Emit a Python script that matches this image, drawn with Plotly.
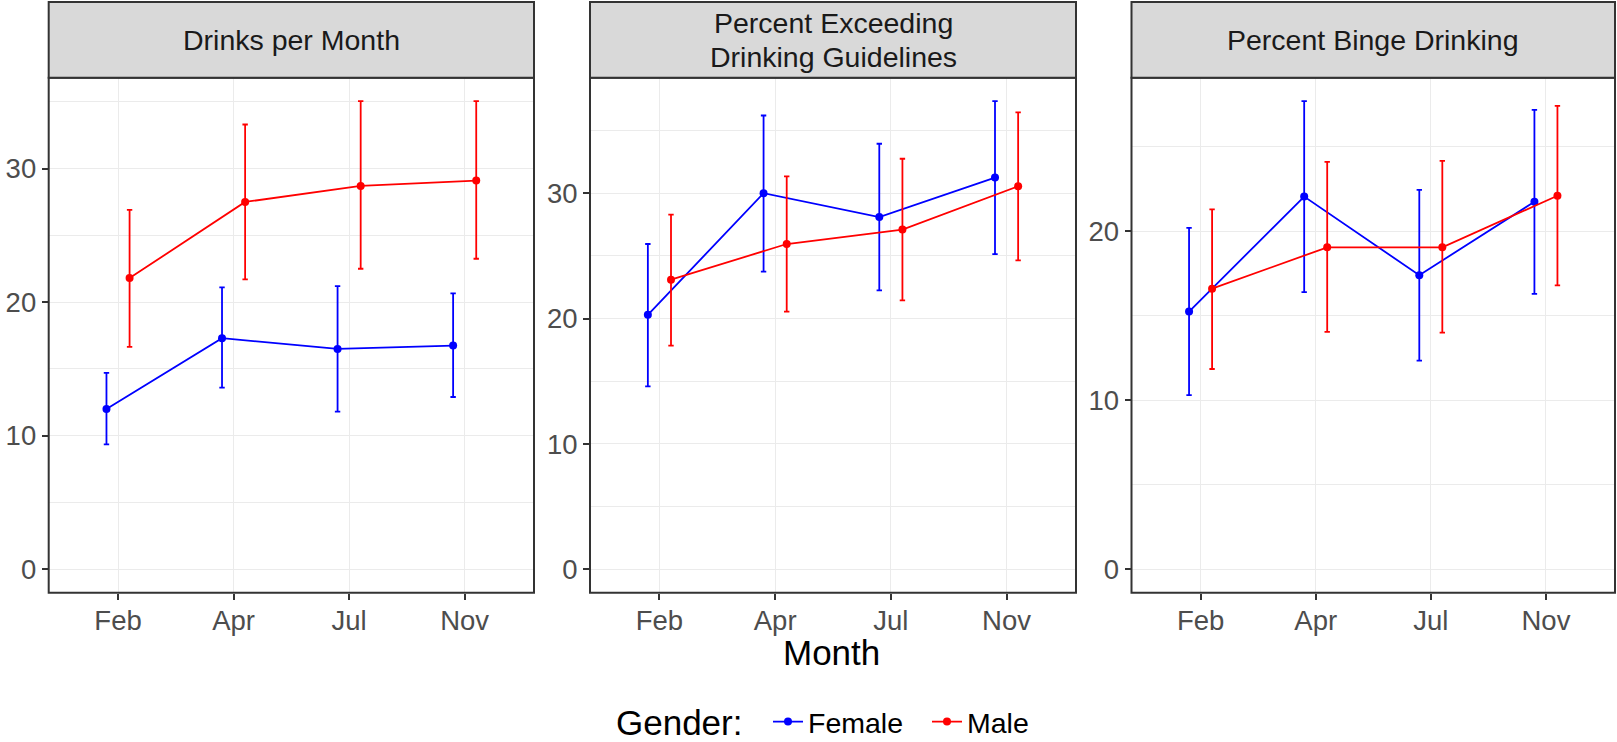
import plotly.graph_objects as go

months = ["Feb", "Apr", "Jul", "Nov"]
panel_titles = [["Drinks per Month"],
                ["Percent Exceeding", "Drinking Guidelines"],
                ["Percent Binge Drinking"]]
genders = ["Female", "Male"]

# Drinks per month: mean with lower / upper bounds
drinks_female = [12.0, 17.3, 16.5, 16.75]
drinks_female_lo = [9.35, 13.6, 11.8, 12.9]
drinks_female_hi = [14.7, 21.1, 21.2, 20.65]
drinks_male = [21.8, 27.5, 28.7, 29.1]
drinks_male_lo = [16.65, 21.7, 22.5, 23.25]
drinks_male_hi = [26.9, 33.3, 35.05, 35.05]

# Percent exceeding drinking guidelines
exceed_female = [20.3, 30.0, 28.1, 31.25]
exceed_female_lo = [14.6, 23.75, 22.25, 25.15]
exceed_female_hi = [25.95, 36.2, 33.95, 37.35]
exceed_male = [23.1, 25.95, 27.1, 30.55]
exceed_male_lo = [17.85, 20.55, 21.45, 24.65]
exceed_male_hi = [28.3, 31.35, 32.75, 36.45]

# Percent binge drinking
binge_female = [15.25, 22.05, 17.4, 21.75]
binge_female_lo = [10.3, 16.4, 12.35, 16.3]
binge_female_hi = [20.2, 27.7, 22.45, 27.18]
binge_male = [16.6, 19.05, 19.05, 22.1]
binge_male_lo = [11.85, 14.05, 14.0, 16.8]
binge_male_hi = [21.3, 24.1, 24.16, 27.42]

panels = [
    {"Female": (drinks_female, drinks_female_lo, drinks_female_hi),
     "Male": (drinks_male, drinks_male_lo, drinks_male_hi)},
    {"Female": (exceed_female, exceed_female_lo, exceed_female_hi),
     "Male": (exceed_male, exceed_male_lo, exceed_male_hi)},
    {"Female": (binge_female, binge_female_lo, binge_female_hi),
     "Male": (binge_male, binge_male_lo, binge_male_hi)},
]
y_tickvals = [[0, 10, 20, 30], [0, 10, 20, 30], [0, 10, 20]]

colors = {"Female": "#0000FF", "Male": "#FF0000"}
dodge = {"Female": -0.1, "Male": 0.1}

W, H = 1617, 742
FONT = "Liberation Sans, Arial, sans-serif"

# panel geometry (pixels)
panel_x = [(48.7, 534.0), (590.0, 1076.0), (1131.5, 1615.0)]
plot_top, plot_bottom = 77.7, 592.7
strip_top = 2.0
strip_line_gap = 34.0
legend_row_y = 722.0


def px_x(v):
    return v / W


def px_y(v):
    return 1 - v / H


fig = go.Figure()

for p, data in enumerate(panels):
    ax = "" if p == 0 else str(p + 1)
    for g in genders:
        mean, lo, hi = data[g]
        xs = [i + 1 + dodge[g] for i in range(len(months))]
        fig.add_trace(go.Scatter(
            x=xs, y=mean,
            mode="lines+markers",
            name=g,
            legendgroup=g,
            showlegend=(p == 0),
            line=dict(color=colors[g], width=1.8),
            marker=dict(color=colors[g], size=8),
            error_y=dict(
                type="data", symmetric=False,
                array=[h - m for h, m in zip(hi, mean)],
                arrayminus=[m - l for m, l in zip(mean, lo)],
                color=colors[g], thickness=1.8, width=2.7,
            ),
            xaxis="x" + ax, yaxis="y" + ax,
        ))

    # y range: include zero, expand by 5% on each side
    ymax = max(max(data["Female"][2]), max(data["Male"][2]))
    ymin = 0.0
    span = ymax - ymin
    yr = [ymin - 0.05 * span, ymax + 0.05 * span]

    x0, x1 = panel_x[p]
    fig.layout["xaxis" + ax] = dict(
        domain=[px_x(x0), px_x(x1)],
        anchor="y" + ax,
        range=[0.4, 4.6],
        tickvals=[1, 2, 3, 4], ticktext=months,
        showgrid=True, gridcolor="#EBEBEB", gridwidth=1.3,
        zeroline=False, showline=False,
        ticks="outside", ticklen=6, tickwidth=2, tickcolor="#333333",
        ticklabelstandoff=-3,
        tickfont=dict(family=FONT, size=27.5, color="#4D4D4D"),
    )
    fig.layout["yaxis" + ax] = dict(
        domain=[px_y(plot_bottom), px_y(plot_top)],
        anchor="x" + ax,
        range=yr,
        tickvals=y_tickvals[p],
        showgrid=True, gridcolor="#EBEBEB", gridwidth=1.3,
        minor=dict(dtick=5, showgrid=True, gridcolor="#EBEBEB", gridwidth=0.7, ticks=""),
        zeroline=False, showline=False,
        ticks="outside", ticklen=6, tickwidth=2, tickcolor="#333333",
        tickfont=dict(family=FONT, size=27.5, color="#4D4D4D"),
    )

    # panel border
    fig.add_shape(type="rect", xref="paper", yref="paper",
                  x0=px_x(x0), x1=px_x(x1), y0=px_y(plot_bottom), y1=px_y(plot_top),
                  line=dict(color="#333333", width=2), fillcolor="rgba(0,0,0,0)", layer="above")
    # facet strip
    fig.add_shape(type="rect", xref="paper", yref="paper",
                  x0=px_x(x0), x1=px_x(x1), y0=px_y(plot_top), y1=px_y(strip_top),
                  line=dict(color="#333333", width=2), fillcolor="#D9D9D9", layer="above")
    lines = panel_titles[p]
    mid = (plot_top + strip_top) / 2
    for k, txt in enumerate(lines):
        yc = mid + (k - (len(lines) - 1) / 2) * strip_line_gap
        fig.add_annotation(x=px_x((x0 + x1) / 2), y=px_y(yc),
                           xref="paper", yref="paper", text=txt, showarrow=False,
                           xanchor="center", yanchor="middle",
                           font=dict(family=FONT, size=28.5, color="#1A1A1A"))

# shared x-axis title
fig.add_annotation(x=px_x((panel_x[0][0] + panel_x[2][1]) / 2), y=px_y(652),
                   xref="paper", yref="paper", text="Month", showarrow=False,
                   xanchor="center", yanchor="middle",
                   font=dict(family=FONT, size=35, color="#000000"))

# legend title, set on the same row as the legend entries
fig.add_annotation(x=px_x(744), y=px_y(legend_row_y),
                   xref="paper", yref="paper", text="Gender:", showarrow=False,
                   xanchor="right", yanchor="middle",
                   font=dict(family=FONT, size=35, color="#000000"))

fig.update_layout(
    width=W, height=H,
    margin=dict(l=0, r=0, t=0, b=0, autoexpand=False),
    paper_bgcolor="white", plot_bgcolor="white",
    font=dict(family=FONT),
    legend=dict(
        orientation="h",
        x=px_x(768), xanchor="left",
        y=px_y(legend_row_y), yanchor="middle",
        font=dict(family=FONT, size=28.5, color="#000000"),
        bgcolor="rgba(0,0,0,0)",
        itemwidth=30,
        entrywidthmode="pixels", entrywidth=114,
    ),
)

fig.write_html("out.html")
